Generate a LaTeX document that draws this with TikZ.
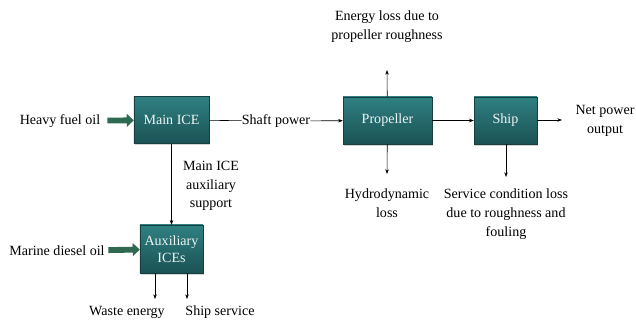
\documentclass[tikz,border=0pt]{standalone}
\usepackage{fontspec}
\setmainfont{Liberation Serif}
\usetikzlibrary{arrows.meta,shadows}

\definecolor{box_top}{HTML}{2F8082}
\definecolor{box_bottom}{HTML}{1B5254}
\definecolor{box_line}{HTML}{173F40}
\definecolor{fuel_green}{HTML}{2F6A50}

\tikzset{
  bloc/.style={draw=box_line,line width=0.4pt,top color=box_top,bottom color=box_bottom,
    text=white!92!box_top,font=\fontsize{12}{14}\selectfont,align=center,
    minimum height=1.42cm,inner sep=1pt,
    drop shadow={opacity=0.35,shadow xshift=1pt,shadow yshift=-1.5pt}},
  label_txt/.style={align=center,font=\fontsize{12}{16}\selectfont,inner sep=0pt},
  fleche/.style={-{Stealth[length=4pt,width=3pt]},line width=0.5pt},
  carburant/.style={draw=fuel_green,line width=5pt,-{Triangle[length=6pt,width=11pt]}}
}

\begin{document}
\begin{tikzpicture}[x=0.03cm,y=-0.03cm]
\useasboundingbox (0,0) rectangle (636,321);

\node[bloc,minimum width=2.25cm] (main) at (171.5,120){Main ICE};
\node[bloc,minimum width=2.67cm] (prop) at (387.5,120.5){Propeller};
\node[bloc,minimum width=1.89cm] (ship) at (505.5,120.5){Ship};
\node[bloc,minimum width=1.89cm,minimum height=1.44cm,text width=1.8cm,
  font=\fontsize{12}{15}\selectfont] (aux) at (171.5,249){Auxiliary\\ICEs};

\node[label_txt] (hfo) at (60,121){Heavy fuel oil};
\node[label_txt] (mdo) at (57,251){Marine diesel oil};
\node[label_txt] (shaft) at (276,121){Shaft power};
\node[label_txt] (support) at (211,186){Main ICE\\auxiliary\\support};
\node[label_txt] (roughness) at (387,27){Energy loss due to\\propeller roughness};
\node[label_txt] (hydro) at (387,203){Hydrodynamic\\loss};
\node[label_txt] (fouling) at (506,214){Service condition loss\\due to roughness and\\fouling};
\node[label_txt] (net) at (605,121){Net power\\output};
\node[label_txt] (waste) at (127,312){Waste energy};
\node[label_txt] (service) at (220,312){Ship service};

\coordinate (up_end) at (387,70);
\coordinate (prop_end) at (387,174);
\coordinate (ship_end) at (506,177);
\coordinate (net_end) at (562,120);
\coordinate (waste_end) at (155,299);
\coordinate (service_end) at (187,299);

\draw[carburant,shorten <=6pt] (hfo) -- (main);%fioul lourd
\draw[carburant,shorten <=3pt] (mdo) -- (aux);%diesel marin

\draw[line width=0.5pt] (main) -- (shaft);
\draw[fleche] (shaft) -- (prop);
\draw[fleche] (prop) -- (ship);
\draw[fleche] (ship.east |- net_end) -- (net_end);
\draw[fleche] (prop) -- (up_end);%pertes helice
\draw[fleche] (prop) -- (prop_end);
\draw[fleche] (ship.south -| ship_end) -- (ship_end);
\draw[fleche] (main) -- (aux);%vers les auxiliaires
\draw[fleche] (aux.south -| waste_end) -- (waste_end);
\draw[fleche] (aux.south -| service_end) -- (service_end);

\end{tikzpicture}
\end{document}
